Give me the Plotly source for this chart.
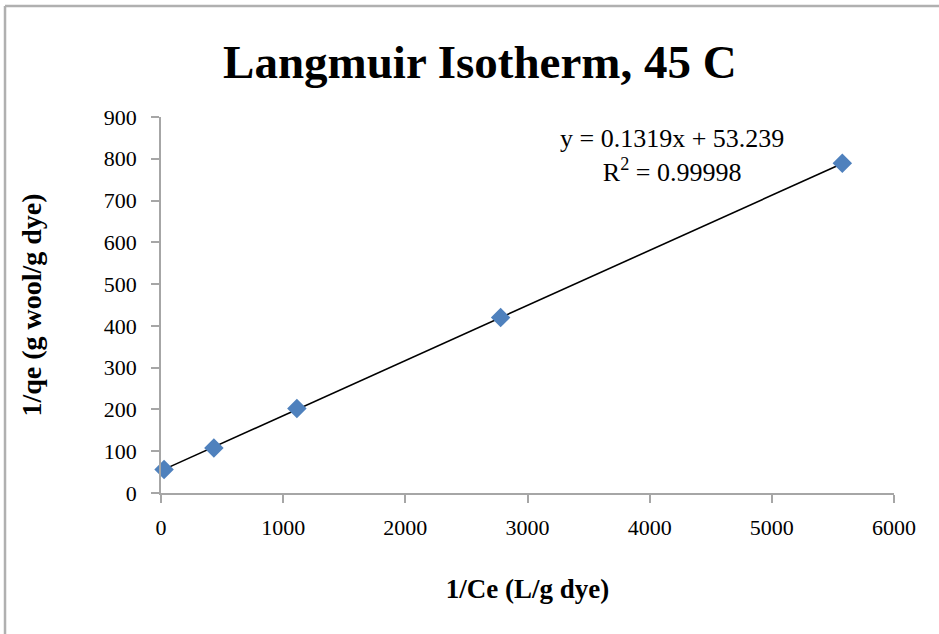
import numpy as np
import plotly.graph_objects as go

# Data
inv_ce = [25, 433, 1112, 2780, 5577]      # 1/Ce (L/g dye)
inv_qe = [56, 108, 202, 420, 789]         # 1/qe (g wool/g dye)
x_ticks = [0, 1000, 2000, 3000, 4000, 5000, 6000]
y_ticks = [0, 100, 200, 300, 400, 500, 600, 700, 800, 900]
fit_slope = 0.1319
fit_intercept = 53.239
fit_r2 = 0.99998

title_text = "Langmuir Isotherm, 45 C"
x_title = "1/Ce (L/g dye)"
y_title = "1/qe (g wool/g dye)"

FONT = "Liberation Serif"

fit_x = [min(inv_ce), max(inv_ce)]
fit_y = [fit_slope * v + fit_intercept for v in fit_x]

fig = go.Figure()
fig.add_trace(go.Scatter(
    x=fit_x, y=fit_y, mode="lines",
    line=dict(color="black", width=1.6),
    showlegend=False, hoverinfo="skip"))
fig.add_trace(go.Scatter(
    x=inv_ce, y=inv_qe, mode="markers", cliponaxis=False,
    marker=dict(symbol="diamond", size=15, color="#4F81BD", line=dict(width=0)),
    showlegend=False))

axis_common = dict(
    showgrid=False, zeroline=False, showline=True,
    linecolor="#A6A6A6", linewidth=1.5,
    ticks="outside", ticklen=8, tickcolor="#A6A6A6", tickwidth=1.5,
    tickfont=dict(family=FONT, size=22, color="black"),
)

fig.update_layout(
    width=939, height=634,
    margin=dict(l=161, r=45, t=117, b=141),
    paper_bgcolor="white", plot_bgcolor="white",
    title=dict(text="<b>" + title_text + "</b>", x=0.511, xanchor="center",
               y=1 - 62 / 634, yanchor="middle",
               font=dict(family=FONT, size=47, color="black")),
    xaxis=dict(range=[0, 6000], tickvals=x_ticks, **axis_common,
               ticklabelstandoff=6,
               title=dict(text="<b>" + x_title + "</b>", standoff=40,
                          font=dict(family=FONT, size=27, color="black"))),
    yaxis=dict(range=[0, 900], tickvals=y_ticks, **axis_common,
               ticklabelstandoff=10,
               title=dict(text="<b>" + y_title + "</b>", standoff=54,
                          font=dict(family=FONT, size=28, color="black"))),
    annotations=[
        dict(x=4183, y=808, xref="x", yref="y", showarrow=False,
             text=f"y = {fit_slope}x + {fit_intercept}<br>R<sup>2</sup> = {fit_r2}",
             font=dict(family=FONT, size=26, color="black"),
             align="center", xanchor="center", yanchor="middle"),
    ],
    shapes=[
        dict(type="line", xref="paper", yref="paper",
             x0=-0.2128, x1=1.2, y0=1.2955, y1=1.2955,
             line=dict(color="#B0B0B0", width=2.5)),
        dict(type="line", xref="paper", yref="paper",
             x0=-0.2128, x1=-0.2128, y0=1.2955, y1=-0.5,
             line=dict(color="#B0B0B0", width=2.5)),
    ],
)

fig.write_html("out.html")
